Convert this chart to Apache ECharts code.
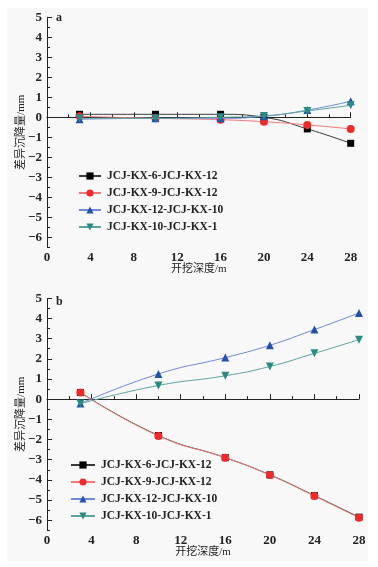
<!DOCTYPE html>
<html><head><meta charset="utf-8">
<script src="https://cdn.jsdelivr.net/npm/echarts@6/dist/echarts.min.js"></script>
<style>html,body{margin:0;padding:0;background:#fff}#c{width:378px;height:567px}</style>
</head><body><div id="c"></div>
<script>
const depths = [3, 10, 16, 20, 24, 28];
const seriesNames = ['JCJ-KX-6-JCJ-KX-12', 'JCJ-KX-9-JCJ-KX-12', 'JCJ-KX-12-JCJ-KX-10', 'JCJ-KX-10-JCJ-KX-1'];
// panel a
const a_6_12  = [0.15, 0.15, 0.15, 0.0, -0.58, -1.3];
const a_9_12  = [0.05, -0.05, -0.12, -0.22, -0.38, -0.58];
const a_12_10 = [-0.1, -0.05, -0.05, 0.05, 0.36, 0.8];
const a_10_1  = [-0.05, -0.05, 0.0, 0.07, 0.32, 0.6];
// panel b
const b_6_12  = [0.33, -1.8, -2.9, -3.75, -4.78, -5.85];
const b_9_12  = [0.33, -1.82, -2.9, -3.76, -4.8, -5.88];
const b_12_10 = [-0.22, 1.25, 2.06, 2.67, 3.45, 4.27];
const b_10_1  = [-0.22, 0.68, 1.16, 1.62, 2.27, 2.95];
const xTicks = [0, 4, 8, 12, 16, 20, 24, 28];
const yMajor = [-6, -5, -4, -3, -2, -1, 0, 1, 2, 3, 4, 5];
const yMinor = [-6.5, -5.5, -4.5, -3.5, -2.5, -1.5, -0.5, 0.5, 1.5, 2.5, 3.5, 4.5];

const fontNum = '"Liberation Serif", "DejaVu Serif", serif';
const fontCJK = '"Liberation Serif", "Noto Sans CJK SC", serif';
const styles = [
  {line: '#3a3a3a', sym: '#000000', symbol: 'rect', rot: 0, size: 7},
  {line: '#f07a7a', sym: '#ee2a2a', symbol: 'circle', rot: 0, size: 8},
  {line: '#7088d8', sym: '#2452a8', symbol: 'triangle', rot: 0, size: 8},
  {line: '#5aa39e', sym: '#2a8a84', symbol: 'triangle', rot: 180, size: 8}
];
function pairs(v){ return depths.map((d,i)=>[d, v[i]]); }
function mkSeries(arrs, gi){
  return arrs.map((v,i)=>({
    name: seriesNames[i], type: 'line', xAxisIndex: gi, yAxisIndex: gi*2,
    data: pairs(v), smooth: 0.5, symbol: styles[i].symbol, symbolSize: styles[i].size,
    symbolRotate: styles[i].rot, showSymbol: true,
    lineStyle: {color: styles[i].line, width: 1},
    itemStyle: {color: styles[i].sym},
    z: 2 + i, animation: false
  }));
}
const grids = [
  {left: 47, right: 27.3, top: 17.3, bottom: 319.7},
  {left: 47, right: 19, top: 298.3, bottom: 36.7}
];
function xAx(gi){
  return {type: 'value', gridIndex: gi, min: 0, max: 28, interval: 4,
    name: '开挖深度/m', nameLocation: 'middle', nameGap: 16, nameMoveOverlap: false,
    nameTextStyle: {fontFamily: fontCJK, fontSize: 11, color: '#222'},
    axisLine: {lineStyle: {color: '#222', width: 1}},
    axisTick: {inside: true, length: 5, lineStyle: {color: '#222'}},
    minorTick: {show: true, splitNumber: 2, length: 3, lineStyle: {color: '#222'}},
    axisLabel: {fontFamily: fontNum, fontSize: 13, fontWeight: 'bold', color: '#222', margin: 4},
    splitLine: {show: false}};
}
function yAxes(gi){
  return [{type: 'value', gridIndex: gi, min: -6.5, max: 5,
    name: '差异沉降量/mm', nameLocation: 'middle', nameGap: 20, nameMoveOverlap: false,
    nameTextStyle: {fontFamily: fontCJK, fontSize: 11, color: '#222'},
    axisLine: {show: true, lineStyle: {color: '#222', width: 1}},
    axisTick: {inside: true, length: 5, customValues: yMajor, lineStyle: {color: '#222'}},
    axisLabel: {customValues: yMajor, fontFamily: fontNum, fontSize: 13, fontWeight: 'bold', color: '#222', margin: 5,
      formatter: v => (v < 0 ? '\u2212' + Math.abs(v) : String(v))},
    splitLine: {show: false}},
   {type: 'value', gridIndex: gi, min: -6.5, max: 5, position: 'left',
    axisLine: {show: false},
    axisTick: {show: true, inside: true, length: 3, customValues: yMinor, lineStyle: {color: '#222'}},
    axisLabel: {show: false}, splitLine: {show: false}}];
}
function legend(top, left, iw){
  return {orient: 'vertical', top: top, left: left, itemWidth: iw, itemHeight: 9, itemGap: 5,
    data: seriesNames, textStyle: {fontFamily: fontNum, fontSize: 11.5, fontWeight: 'bold', color: '#222', padding: [0,0,0,1]},
    padding: 0, selectedMode: false};
}
const chart = echarts.init(document.getElementById('c'), null, {renderer: 'canvas'});
chart.setOption({
  backgroundColor: '#ffffff',
  animation: false,
  graphic: [
    {type: 'rect', shape: {x: 7, y: 8, width: 361, height: 553}, style: {fill: '#f8f8f8'}, z: -10, silent: true},
    {type: 'text', left: 56, top: 12, style: {text: 'a', font: 'bold 12px ' + fontNum, fill: '#222'}},
    {type: 'text', left: 56, top: 296, style: {text: 'b', font: 'bold 12px ' + fontNum, fill: '#222'}}
  ],
  grid: grids,
  xAxis: [xAx(0), xAx(1)],
  yAxis: yAxes(0).concat(yAxes(1)),
  legend: [legend(170, 78, 22), legend(459, 70, 24)],
  series: mkSeries([a_6_12, a_9_12, a_12_10, a_10_1], 0).concat(mkSeries([b_6_12, b_9_12, b_12_10, b_10_1], 1))
});
</script></body></html>
